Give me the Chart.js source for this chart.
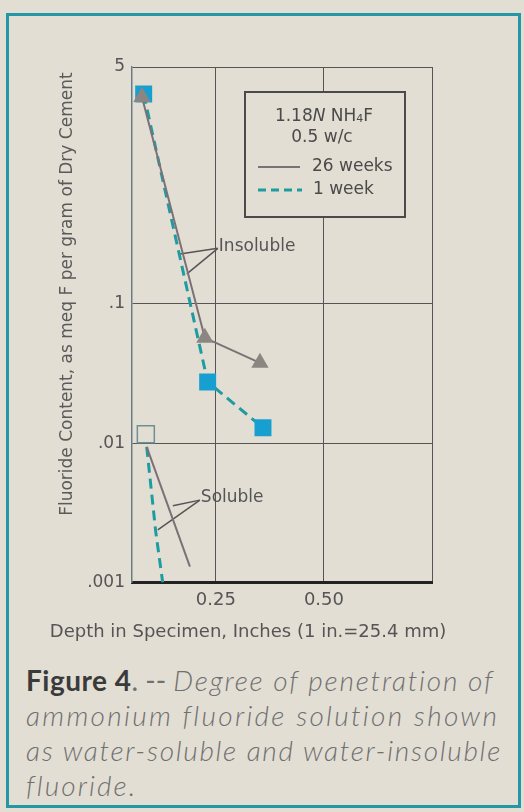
<!DOCTYPE html>
<html>
<head>
<meta charset="utf-8">
<script src="https://cdn.jsdelivr.net/npm/chart.js@4"></script>
<style>
  html, body { margin:0; padding:0; background:#e2ded4; width:524px; height:812px; overflow:hidden; }
  #frame { position:absolute; left:6px; top:13px; width:515px; height:795px; box-sizing:border-box; border:3px solid #2596a3; }
  #wrap { position:absolute; left:0; top:0; width:524px; height:660px; }
  #cap { position:absolute; left:26px; top:663px; width:495px; font-family:Lato, "Open Sans", sans-serif; font-size:28px; line-height:35px; color:#707070; white-space:nowrap; }
  #cap div { letter-spacing:2.1px; }
  #cap .l1 { letter-spacing:1.8px; }
  #cap .l2 { letter-spacing:2.3px; }
  #cap .l3 { letter-spacing:1.7px; }
  #cap b { color:#3a3a3a; font-style:normal; letter-spacing:0.5px; }
  #cap .sep { letter-spacing:0; }
  #cap i { font-weight:300; }
</style>
</head>
<body>
<div id="frame"></div>
<div id="wrap"><canvas id="c" width="524" height="660"></canvas></div>
<div id="cap">
  <div class="l1"><b>Figure 4</b><span class="sep">. -- </span><i>Degree of penetration of</i></div>
  <div class="l2"><i>ammonium fluoride solution shown</i></div>
  <div class="l3"><i>as water-soluble and water-insoluble</i></div>
  <div><i>fluoride.</i></div>
</div>
<script>
// ---- data (depth in inches, fluoride in meq F / g dry cement) ----
const insoluble26Depth = [0.079, 0.2245, 0.352];
const insoluble26Value = [3.05, 0.057, 0.0377];
const insoluble1Depth  = [0.083, 0.231, 0.359];
const insoluble1Value  = [3.2, 0.0275, 0.0129];
const soluble26Depth   = [0.090, 0.190];
const soluble26Value   = [0.0094, 0.0013];
const soluble1Depth    = [0.090, 0.111, 0.127];
const soluble1Value    = [0.0094, 0.0023, 0.001];
const solubleStartDepth = [0.088];
const solubleStartValue = [0.0116];

const xTickValues = [0.25, 0.5, 0.75];
const xTickLabels = ['0.25', '0.50', ''];
const yTickValues = [0.001, 0.01, 0.1, 5];
const yTickLabels = ['.001', '.01', '.1', '5'];

const xAxisTitle = 'Depth in Specimen, Inches (1 in.=25.4 mm)';
const yAxisTitle = 'Fluoride Content, as meq F per gram of Dry Cement';

// annotation leader lines: label anchor and targets (data units)
const insolubleLabelPos = {x: 0.2546, y: 0.25};
const insolubleTargets  = [{x: 0.1667, y: 0.228}, {x: 0.1829, y: 0.164}];
const solubleLabelPos   = {x: 0.213, y: 0.0039};
const solubleTargets    = [{x: 0.1505, y: 0.00355}, {x: 0.1157, y: 0.00239}];

const pts = (xs, ys) => xs.map((x, i) => ({x, y: ys[i]}));
const leader = (a, b) => [a, b];

const GRAY_LINE = '#7b7177';
const GRAY_MARK = '#8b8681';
const TEAL = '#1f9c9f';
const CYAN = '#17a0cf';
const FONT = '"DejaVu Sans", "Liberation Sans", Arial, sans-serif';

const annotations = {
  id: 'annotations',
  afterDatasetsDraw(chart) {
    const {ctx, scales: {x, y}} = chart;
    ctx.save();
    ctx.fillStyle = '#555';
    ctx.font = '17px ' + FONT;
    ctx.textBaseline = 'middle';
    ctx.textAlign = 'left';
    ctx.fillText('Insoluble', x.getPixelForValue(insolubleLabelPos.x) + 1, y.getPixelForValue(insolubleLabelPos.y) - 2);
    ctx.fillText('Soluble', x.getPixelForValue(solubleLabelPos.x) + 1, y.getPixelForValue(solubleLabelPos.y) - 3);
    ctx.restore();
  },
  afterDraw(chart) {
    const {ctx, chartArea: a} = chart;
    // x axis title (drawn wider than the plot area, as in the original)
    ctx.save();
    ctx.fillStyle = '#555';
    ctx.font = '18px ' + FONT;
    ctx.textAlign = 'center';
    ctx.textBaseline = 'middle';
    ctx.fillText(xAxisTitle, (a.left + a.right) / 2 - 34, a.bottom + 50);
    ctx.restore();
    // legend box
    const L = a.left + 113, T = a.top + 25, W = 160, H = 125;
    ctx.save();
    ctx.fillStyle = '#e2ded4';
    ctx.fillRect(L, T, W, H);
    ctx.strokeStyle = '#4a4a4a';
    ctx.lineWidth = 2;
    ctx.strokeRect(L, T, W, H);
    ctx.fillStyle = '#4a4a4a';
    ctx.textBaseline = 'alphabetic';
    const parts = [
      {t: '1.18', f: '17px ' + FONT, dy: 0},
      {t: 'N', f: 'italic 17px ' + FONT, dy: 0},
      {t: ' NH', f: '17px ' + FONT, dy: 0},
      {t: '4', f: '11px ' + FONT, dy: 1},
      {t: 'F', f: '17px ' + FONT, dy: 0},
    ];
    let tw = 0;
    parts.forEach(p => { ctx.font = p.f; tw += ctx.measureText(p.t).width; });
    let cx = L + W / 2 - tw / 2 - 1;
    const base1 = T + 29;
    parts.forEach(p => { ctx.font = p.f; ctx.textAlign = 'left'; ctx.fillText(p.t, cx, base1 + p.dy); cx += ctx.measureText(p.t).width; });
    ctx.font = '17px ' + FONT;
    ctx.textAlign = 'center';
    ctx.fillText('0.5 w/c', L + W / 2 - 3, T + 50);
    ctx.lineWidth = 2;
    ctx.strokeStyle = GRAY_LINE;
    ctx.beginPath(); ctx.moveTo(L + 13, T + 75); ctx.lineTo(L + 55, T + 75); ctx.stroke();
    ctx.lineWidth = 3;
    ctx.strokeStyle = TEAL;
    ctx.setLineDash([8, 5]);
    ctx.beginPath(); ctx.moveTo(L + 13, T + 98); ctx.lineTo(L + 57, T + 98); ctx.stroke();
    ctx.setLineDash([]);
    ctx.textAlign = 'left';
    ctx.textBaseline = 'middle';
    ctx.fillText('26 weeks', L + 67, T + 75);
    ctx.fillText('1 week', L + 68, T + 98);
    ctx.restore();
  }
};

new Chart(document.getElementById('c'), {
  type: 'scatter',
  data: {
    datasets: [
      { label: '26 weeks insoluble', data: pts(insoluble26Depth, insoluble26Value), showLine: true,
        borderColor: GRAY_LINE, borderWidth: 2, pointStyle: 'triangle', pointRadius: 10,
        pointBackgroundColor: GRAY_MARK, pointBorderColor: GRAY_MARK, pointBorderWidth: 0 },
      { label: '1 week insoluble', data: pts(insoluble1Depth, insoluble1Value), showLine: true,
        borderColor: TEAL, borderWidth: 3, borderDash: [10, 6], pointStyle: 'rect', pointRadius: 12,
        pointBackgroundColor: CYAN, pointBorderColor: CYAN, pointBorderWidth: 0 },
      { label: '26 weeks soluble', data: pts(soluble26Depth, soluble26Value), showLine: true,
        borderColor: GRAY_LINE, borderWidth: 2, pointRadius: 0 },
      { label: '1 week soluble', data: pts(soluble1Depth, soluble1Value), showLine: true,
        borderColor: TEAL, borderWidth: 3, borderDash: [10, 6], pointRadius: 0 },
      { label: 'soluble start', data: pts(solubleStartDepth, solubleStartValue), showLine: false,
        pointStyle: 'rect', pointRadius: 12, pointBackgroundColor: 'rgba(0,0,0,0)',
        pointBorderColor: '#6f8f92', pointBorderWidth: 1.5 },
      { label: 'insoluble leader a', data: leader(insolubleLabelPos, insolubleTargets[0]), showLine: true,
        borderColor: '#555', borderWidth: 1.5, pointRadius: 0 },
      { label: 'insoluble leader b', data: leader(insolubleLabelPos, insolubleTargets[1]), showLine: true,
        borderColor: '#555', borderWidth: 1.5, pointRadius: 0 },
      { label: 'soluble leader a', data: leader(solubleLabelPos, solubleTargets[0]), showLine: true,
        borderColor: '#555', borderWidth: 1.5, pointRadius: 0 },
      { label: 'soluble leader b', data: leader(solubleLabelPos, solubleTargets[1]), showLine: true,
        borderColor: '#555', borderWidth: 1.5, pointRadius: 0 },
    ]
  },
  options: {
    responsive: false,
    animation: false,
    devicePixelRatio: 1,
    layout: { padding: { top: 67, right: 92, left: 0, bottom: 0 } },
    plugins: { legend: { display: false }, tooltip: { enabled: false } },
    scales: {
      x: {
        type: 'linear', min: 0.056, max: 0.75, position: 'bottom',
        afterBuildTicks: s => { s.ticks = xTickValues.map(v => ({value: v})); },
        afterFit: s => { s.height = 77.5; },
        ticks: { padding: 7, color: '#555', font: { family: FONT, size: 18 },
          callback: (v) => { const i = xTickValues.indexOf(v); return i >= 0 ? xTickLabels[i] : ''; } },
        grid: { color: '#555', lineWidth: 1, drawTicks: false },
        border: { display: true, color: '#222', width: 3 },
        title: { display: false }
      },
      y: {
        type: 'logarithmic', min: 0.001, max: 5,
        afterBuildTicks: s => { s.ticks = yTickValues.map(v => ({value: v})); },
        afterFit: s => { s.width = 132; },
        ticks: { padding: 7, color: '#555', font: { family: FONT, size: 17 },
          callback: (v) => { const i = yTickValues.findIndex(t => Math.abs(t - v) / t < 1e-6); return i >= 0 ? yTickLabels[i] : ''; } },
        grid: { color: '#555', lineWidth: 1, drawTicks: false },
        border: { display: true, color: '#6a7d85', width: 1.5 },
        title: { display: true, text: yAxisTitle + ' ', color: '#5a5a5a',
          align: 'end', font: { family: FONT, size: 17 }, padding: { top: 57, bottom: 0 } }
      }
    }
  },
  plugins: [annotations]
});
</script>
</body>
</html>
